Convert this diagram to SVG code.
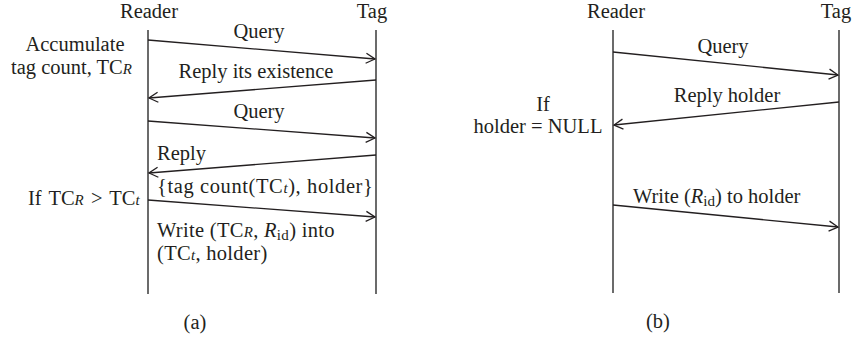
<svg xmlns="http://www.w3.org/2000/svg" width="855" height="343" viewBox="0 0 855 343">
  <style>
    text { font-family: "Liberation Serif", "Times New Roman", serif; font-size: 20.5px; fill: #231f20; }
    .c { text-anchor: middle; }
    .sub { font-size: 15px; font-style: italic; }
    .subr { font-size: 15px; }
    .it { font-style: italic; }
    .life { stroke: #3a3a3a; stroke-width: 1.5; fill: none; }
    .msg { stroke: #231f20; stroke-width: 1.3; fill: none; marker-end: url(#arrow); }
  </style>
  <defs>
    <marker id="arrow" markerWidth="12" markerHeight="12" refX="10" refY="6" orient="auto" markerUnits="userSpaceOnUse">
      <path d="M1,1 L10,6 L1,11" fill="none" stroke="#231f20" stroke-width="1.3"/>
    </marker>
  </defs>
  <rect width="855" height="343" fill="#ffffff"/>

  <!-- (a) lifelines -->
  <g id="a-reader">
    <text class="c" x="149" y="18">Reader</text>
    <line class="life" x1="148" y1="30" x2="148" y2="294"/>
  </g>
  <g id="a-tag">
    <text class="c" x="372" y="18">Tag</text>
    <line class="life" x1="376" y1="30" x2="376" y2="294"/>
  </g>

  <!-- (a) side notes -->
  <g id="a-note-accumulate">
    <text class="c" x="75" y="51">Accumulate</text>
    <text x="11" y="74">tag count, TC<tspan class="sub">R</tspan></text>
  </g>
  <g id="a-note-if">
    <text x="28" y="205" word-spacing="2">If TC<tspan class="sub">R</tspan> &gt; TC<tspan class="sub">t</tspan></text>
  </g>

  <!-- (a) messages -->
  <g id="a-connectors">
    <line class="msg" x1="148" y1="40" x2="375" y2="59"/>
    <line class="msg" x1="376" y1="80" x2="149" y2="98"/>
    <line class="msg" x1="148" y1="121" x2="375" y2="138"/>
    <line class="msg" x1="376" y1="155" x2="149" y2="173"/>
    <line class="msg" x1="148" y1="200" x2="375" y2="217"/>
  </g>
  <g id="a-labels">
    <text class="c" x="259" y="38">Query</text>
    <text class="c" x="256" y="78">Reply its existence</text>
    <text class="c" x="259" y="118">Query</text>
    <text x="157" y="160">Reply</text>
    <text x="157" y="193" letter-spacing="0.6">{tag count(TC<tspan class="sub">t</tspan>), holder}</text>
    <text x="157" y="237" letter-spacing="0.3">Write (TC<tspan class="sub">R</tspan>, <tspan class="it">R</tspan><tspan class="subr" dy="3">id</tspan><tspan dy="-3">) into</tspan></text>
    <text x="157" y="260" letter-spacing="0.3">(TC<tspan class="sub">t</tspan>, holder)</text>
  </g>
  <text class="c" x="195" y="329">(a)</text>

  <!-- (b) lifelines -->
  <g id="b-reader">
    <text class="c" x="616" y="18">Reader</text>
    <line class="life" x1="613" y1="30" x2="613" y2="293"/>
  </g>
  <g id="b-tag">
    <text class="c" x="836" y="18">Tag</text>
    <line class="life" x1="839" y1="30" x2="839" y2="293"/>
  </g>

  <!-- (b) side note -->
  <g id="b-note-if">
    <text class="c" x="543" y="111">If</text>
    <text class="c" x="538" y="133">holder = NULL</text>
  </g>

  <!-- (b) messages -->
  <g id="b-connectors">
    <line class="msg" x1="613" y1="52" x2="838" y2="75"/>
    <line class="msg" x1="839" y1="102" x2="614" y2="125"/>
    <line class="msg" x1="613" y1="205" x2="838" y2="227"/>
  </g>
  <g id="b-labels">
    <text class="c" x="723" y="53">Query</text>
    <text class="c" x="727" y="102">Reply holder</text>
    <text x="633" y="203">Write (<tspan class="it">R</tspan><tspan class="subr" dy="3">id</tspan><tspan dy="-3">) to holder</tspan></text>
  </g>
  <text class="c" x="658" y="328">(b)</text>
</svg>
